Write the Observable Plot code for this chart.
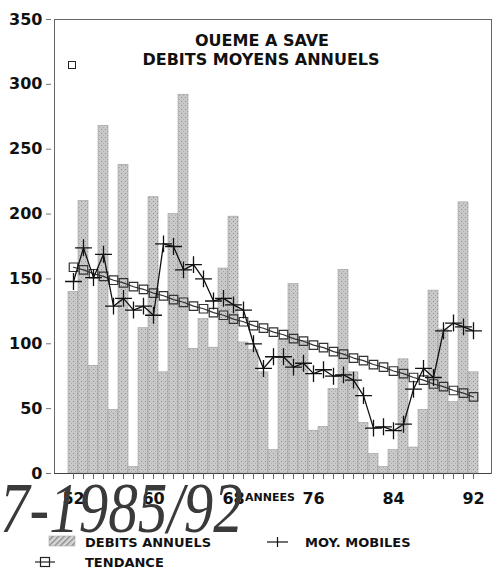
<!DOCTYPE html>
<html><head><meta charset="utf-8">
<script src="https://cdn.jsdelivr.net/npm/d3@7"></script>
<script src="https://cdn.jsdelivr.net/npm/@observablehq/plot@0.6"></script>
<style>
body{margin:0;background:#fff;}
#wrap{position:relative;width:494px;height:569px;overflow:hidden;font-family:"DejaVu Sans",sans-serif;}
#wrap > svg{position:absolute;left:0;top:0;}
.t{position:absolute;white-space:nowrap;font-weight:bold;color:#111;}
</style></head><body><div id="wrap"></div>
<script>
// ---- data ----
const years = [52,53,54,55,56,57,58,59,60,61,62,63,64,65,66,67,68,69,70,71,72,73,74,75,76,77,78,79,80,81,82,83,84,85,86,87,88,89,90,91,92];
const debits = [140,210,83,268,49,238,5,112,213,78,200,292,96,119,97,158,198,101,95,78,18,103,146,102,33,36,65,157,78,39,15,5,18,88,20,49,141,111,55,209,78];
const moyMobiles = [148,174,151,169,129,135,126,129,122,177,175,157,161,150,133,135,130,126,100,81,90,90,82,85,77,80,75,76,72,60,35,36,33,38,65,81,74,110,116,113,110];
const tendance = [159,157,154,152,149,147,144,142,139,137,134,132,129,127,124,122,119,117,114,112,109,107,104,102,99,97,94,92,89,87,84,82,79,77,74,72,69,67,64,62,59];
const yTicks = [0,50,100,150,200,250,300,350];
const xLabels = [52,60,68,76,84,92];
const title1 = "OUEME A SAVE";
const title2 = "DEBITS MOYENS ANNUELS";
const axisName = "ANNEES";
const legendLabels = ["DEBITS ANNUELS","MOY. MOBILES","TENDANCE"];
const annotation = "7-1985/92";

const rows = years.map((y, i) => ({year: y, debit: debits[i], mm: moyMobiles[i], tend: tendance[i]}));

const chart = Plot.plot({
  width: 494, height: 510,
  marginLeft: 54, marginRight: 3, marginTop: 19, marginBottom: 37,
  style: {fontFamily: "DejaVu Sans", fontWeight: "bold", fontSize: "16px", color: "#111", background: "transparent", overflow: "visible"},
  x: {type: "band", domain: years, padding: 0.04},
  y: {domain: [0, 350]},
  marks: [
    Plot.barY(rows, {x: "year", y: "debit", fill: "url(#hatchBar)", stroke: "#9c9c9c", strokeWidth: 0.6}),
    Plot.frame({stroke: "#666", strokeWidth: 1}),
    Plot.ruleY([0], {stroke: "#444", strokeWidth: 1.2}),
    Plot.axisY({ticks: yTicks, tickSize: 5, dx: -3, tickPadding: 4, label: null, stroke: "#777", fontSize: 16}),
    Plot.axisX({ticks: years, tickSize: 6, tickFormat: () => "", label: null, stroke: "#666"}),
    Plot.axisX({ticks: xLabels, tickSize: 0, tickPadding: 19, label: null, fontSize: 16}),
    Plot.line(rows, {x: "year", y: "tend", stroke: "#333", strokeWidth: 1.2}),
    Plot.dot(rows, {x: "year", y: "tend", symbol: "square", r: 4.8, stroke: "#333", fill: "none", strokeWidth: 1.2}),
    Plot.line(rows, {x: "year", y: "mm", stroke: "#111", strokeWidth: 1.3}),
    Plot.dot(rows, {x: "year", y: "mm", symbol: "plus", r: 5.5, stroke: "#111", strokeWidth: 1.3})
  ]
});

const ns = "http://www.w3.org/2000/svg";
const defs = document.createElementNS(ns, "defs");
defs.innerHTML = `<pattern id="hatchBar" width="4" height="4" patternUnits="userSpaceOnUse">
  <rect width="4" height="4" fill="#c9c9c9"/><rect x="1" y="1" width="1" height="1" fill="#8e8e8e"/>
  <rect x="3" y="3" width="1" height="1" fill="#a9a9a9"/></pattern>`;
chart.insertBefore(defs, chart.firstChild);

const wrap = document.getElementById("wrap");
wrap.appendChild(chart);

function addText(txt, css) {
  const d = document.createElement("div");
  d.className = "t";
  d.textContent = txt;
  Object.assign(d.style, css);
  wrap.appendChild(d);
  return d;
}
// titles
addText(title1, {left: "262px", top: "33px", transform: "translateX(-50%)", fontSize: "16px", lineHeight: "16px"});
addText(title2, {left: "261px", top: "52px", transform: "translateX(-50%)", fontSize: "16px", lineHeight: "16px"});
// small square marker in the corner
const sq = document.createElement("div");
Object.assign(sq.style, {position: "absolute", left: "68px", top: "61px", width: "6px", height: "6px", border: "1.3px solid #222"});
wrap.appendChild(sq);
// axis name
addText(axisName, {left: "245px", top: "492px", fontSize: "11px", lineHeight: "11px"});
// handwritten note
addText(annotation, {left: "0px", top: "472px", fontSize: "72px", lineHeight: "72px", fontFamily: "'Liberation Serif', serif", fontStyle: "italic", fontWeight: "normal", color: "#3a3a3a", transform: "scaleX(0.82)", transformOrigin: "0 0"});

// legend
const leg = document.createElement("div");
leg.innerHTML = `
<svg width="494" height="569" style="position:absolute;left:0;top:0" xmlns="${ns}">
  <defs><pattern id="hatchLeg" width="4" height="4" patternUnits="userSpaceOnUse" patternTransform="rotate(45)">
    <rect width="4" height="4" fill="#d6d6d6"/><rect width="1.3" height="4" fill="#8a8a8a"/></pattern></defs>
  <rect x="49" y="536" width="26" height="10" fill="url(#hatchLeg)" stroke="#aaa" stroke-width="0.6"/>
  <line x1="267" x2="288" y1="542" y2="542" stroke="#111" stroke-width="1.2"/>
  <line x1="277.5" x2="277.5" y1="537" y2="547" stroke="#111" stroke-width="1.2"/>
  <line x1="35" x2="55" y1="562" y2="562" stroke="#222" stroke-width="1.2"/>
  <rect x="40.5" y="557.5" width="9" height="9" fill="none" stroke="#222" stroke-width="1.2"/>
</svg>`;
wrap.appendChild(leg.firstElementChild);
addText(legendLabels[0], {left: "85px", top: "536px", fontSize: "13px", lineHeight: "13px"});
addText(legendLabels[1], {left: "305px", top: "536px", fontSize: "13px", lineHeight: "13px"});
addText(legendLabels[2], {left: "85px", top: "556px", fontSize: "13px", lineHeight: "13px"});
</script></body></html>
